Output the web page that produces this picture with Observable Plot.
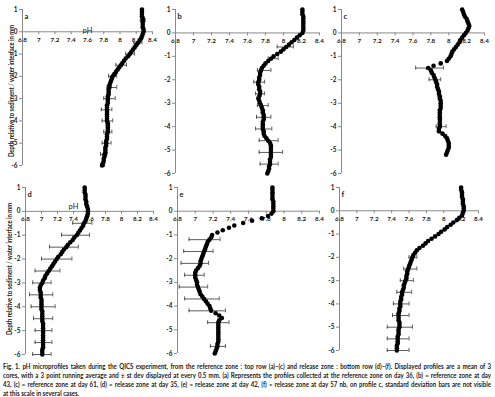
<!DOCTYPE html>
<html><head><meta charset="utf-8">
<script src="https://cdn.jsdelivr.net/npm/d3@7"></script>
<script src="https://cdn.jsdelivr.net/npm/@observablehq/plot@0.6"></script>
<style>
body{margin:0;background:#fff;}
#wrap{position:relative;width:495px;height:397px;overflow:hidden;font-family:Lato,sans-serif;}
.panel{position:absolute;}
.ytitle{position:absolute;white-space:nowrap;font-size:6.8px;line-height:8px;font-weight:bold;color:#222;transform-origin:50% 50%;}
#cap{position:absolute;left:3px;top:361.5px;width:561px;transform:scale(0.87,1);transform-origin:0 0;font-size:7px;line-height:9px;font-weight:bold;color:#222;font-family:Lato,sans-serif;}
#cap div{text-align:justify;text-align-last:justify;white-space:nowrap;}
#cap div.last{text-align-last:left;}
</style></head>
<body><div id="wrap"></div>
<script>
// depth (mm) of each profile point, top to bottom
const depths = [1.0,0.9,0.8,0.7,0.6,0.5,0.4,0.3,0.2,0.1,0.0,
 -0.1,-0.2,-0.3,-0.4,-0.5,-0.6,-0.7,-0.8,-0.9,-1.0,
 -1.1,-1.2,-1.3,-1.4,-1.5,-1.6,-1.7,-1.8,-1.9,-2.0,
 -2.1,-2.2,-2.3,-2.4,-2.5,-2.6,-2.7,-2.8,-2.9,-3.0,
 -3.1,-3.2,-3.3,-3.4,-3.5,-3.6,-3.7,-3.8,-3.9,-4.0,
 -4.1,-4.2,-4.3,-4.4,-4.5,-4.6,-4.7,-4.8,-4.9,-5.0,
 -5.1,-5.2,-5.3,-5.4,-5.5,-5.6,-5.7,-5.8,-5.9,-6.0];

const phA = [8.27,8.27,8.27,8.27,8.28,8.28,8.28,8.28,8.28,8.29,8.29,
 8.28,8.27,8.26,8.24,8.22,8.20,8.18,8.16,8.14,8.12,
 8.10,8.07,8.05,8.03,8.01,7.99,7.97,7.95,7.93,7.91,
 7.90,7.89,7.88,7.87,7.87,7.86,7.86,7.86,7.85,7.85,
 7.85,7.85,7.84,7.84,7.84,7.84,7.84,7.84,7.84,7.84,
 7.85,7.85,7.85,7.85,7.85,7.84,7.84,7.84,7.83,7.83,
 7.83,7.82,7.82,7.82,7.81,7.81,7.80,7.80,7.79,7.78];
const phB = [8.21,8.21,8.21,8.22,8.22,8.22,8.22,8.22,8.22,8.22,8.21,
 8.18,8.15,8.12,8.09,8.06,8.03,8.00,7.97,7.93,7.89,
 7.86,7.83,7.80,7.78,7.76,7.75,7.74,7.74,7.73,7.73,
 7.72,7.72,7.73,7.73,7.74,7.74,7.73,7.72,7.73,7.74,
 7.75,7.76,7.77,7.77,7.78,7.78,7.78,7.77,7.77,7.77,
 7.77,7.78,7.78,7.79,7.81,7.83,7.85,7.86,7.86,7.86,
 7.86,7.86,7.86,7.85,7.85,7.85,7.84,7.84,7.83,7.82];
const phC = [8.15,8.16,8.17,8.18,8.20,8.21,8.22,8.23,8.22,8.21,8.19,
 8.17,8.15,8.13,8.12,8.10,8.08,8.06,8.04,8.03,8.02,
 8.00,7.98,7.91,7.83,7.77,7.80,7.81,7.83,7.84,7.85,
 7.86,7.87,7.87,7.88,7.89,7.89,7.90,7.90,7.91,7.91,
 7.91,7.91,7.90,7.90,7.90,7.90,7.90,7.90,7.90,7.90,
 7.89,7.89,7.93,7.96,7.98,7.99,8.00,8.00,8.00,7.99,
 7.98,7.97];
const phD = [7.54,7.54,7.54,7.55,7.55,7.55,7.56,7.56,7.57,7.58,7.58,
 7.58,7.57,7.56,7.55,7.53,7.52,7.50,7.48,7.46,7.44,
 7.41,7.39,7.36,7.33,7.31,7.28,7.26,7.24,7.21,7.19,
 7.17,7.15,7.13,7.11,7.09,7.07,7.05,7.04,7.02,7.01,
 6.99,6.98,6.98,6.99,6.99,6.99,7.00,7.00,7.00,7.00,
 7.00,7.01,7.01,7.01,7.01,7.01,7.02,7.02,7.02,7.02,
 7.02,7.02,7.02,7.02,7.02,7.02,7.02,7.01,7.01,7.01];
const phE = [7.87,7.87,7.87,7.87,7.87,7.87,7.88,7.88,7.88,7.88,7.88,
 7.86,7.82,7.75,7.64,7.54,7.44,7.38,7.31,7.25,7.19,
 7.18,7.16,7.14,7.13,7.12,7.11,7.10,7.09,7.08,7.07,
 7.06,7.06,7.05,7.03,7.01,7.00,7.00,7.00,7.01,7.02,
 7.02,7.03,7.04,7.05,7.06,7.08,7.10,7.12,7.14,7.16,
 7.17,7.18,7.23,7.27,7.30,7.27,7.26,7.26,7.26,7.26,
 7.26,7.26,7.26,7.26,7.26,7.25,7.25,7.24,7.23,7.22];
const phF = [8.20,8.20,8.21,8.21,8.21,8.22,8.22,8.22,8.23,8.23,8.23,
 8.22,8.21,8.18,8.15,8.11,8.08,8.04,8.01,7.97,7.94,
 7.90,7.86,7.82,7.79,7.76,7.72,7.69,7.67,7.65,7.64,
 7.63,7.62,7.61,7.60,7.59,7.58,7.58,7.57,7.57,7.56,
 7.55,7.54,7.54,7.53,7.52,7.52,7.51,7.51,7.50,7.50,
 7.50,7.49,7.49,7.48,7.48,7.48,7.48,7.49,7.49,7.49,
 7.48,7.48,7.48,7.47,7.47,7.47,7.47,7.46,7.46,7.46];

// error bars: [depth, mean - sd, mean + sd]
const errA = [[0.5,8.25,8.31],[-0.5,8.17,8.27],[-1,8.07,8.18],[-1.5,7.95,8.08],[-2,7.86,7.96],[-2.5,7.84,7.96],
 [-3,7.80,7.94],[-3.5,7.77,7.90],[-4,7.78,7.91],[-4.5,7.80,7.90],[-5,7.78,7.89],[-5.5,7.76,7.84],[-6,7.76,7.81]];
const errB = [[-0.6,7.93,8.11],[-1.1,7.83,7.94],[-1.6,7.71,7.86],[-2.1,7.67,7.79],[-2.6,7.69,7.79],[-3.1,7.71,7.83],
 [-3.6,7.70,7.86],[-4.1,7.69,7.87],[-4.6,7.73,7.94],[-5.1,7.73,7.99],[-5.6,7.74,7.94]];
const errC = [[-1.5,7.63,7.94],[-2,7.78,7.91],[-4,7.86,7.97]];
const errD = [[-0.5,7.39,7.63],[-1,7.25,7.60],[-1.5,7.10,7.46],[-2,7.00,7.38],[-2.5,6.92,7.23],[-3,6.89,7.12],
 [-3.5,6.85,7.14],[-4,6.87,7.17],[-4.5,6.90,7.14],[-5,6.92,7.13],[-5.5,6.92,7.13],[-6,6.89,7.12]];
const errE = [[-1.2,6.93,7.28],[-1.7,6.87,7.20],[-2.2,6.84,7.15],[-2.7,6.88,7.10],[-3.2,6.82,7.14],[-3.7,6.88,7.27],
 [-4.2,6.93,7.34],[-4.7,7.14,7.38],[-5.7,7.17,7.34]];
const errF = [[-2,7.60,7.69],[-2.5,7.54,7.69],[-3,7.50,7.65],[-3.5,7.46,7.63],[-4,7.42,7.60],[-4.5,7.41,7.60],
 [-5,7.35,7.64],[-5.5,7.35,7.60],[-6,7.35,7.60]];

const xTicks = [6.8,7,7.2,7.4,7.6,7.8,8,8.2,8.4];
const yTicks = [1,0,-1,-2,-3,-4,-5,-6];
const letters = ["a","b","c","d","e","f"];
const yTitle = "Depth relative to sediment / water interface in mm";
const captionLines = [
 "Fig. 1.  pH microprofiles taken during the QICS experiment, from the reference zone : top row (a)–(c) and release zone : bottom row (d)–(f). Displayed profiles are a mean of 3",
 "cores, with a 3 point running average and ± st dev displayed at every 0.5 mm. (a) Represents the profiles collected at the reference zone on day 36, (b) = reference zone at day",
 "43, (c) = reference zone at day 61, (d) = release zone at day 35, (e) = release zone at day 42, (f) = release zone at day 57 nb, on profile c, standard deviation bars are not visible",
 "at this scale in several cases."];

const series = [phA,phB,phC,phD,phE,phF];
const errs = [errA,errB,errC,errD,errE,errF];
// layout per panel
const layout = [
 {left:0,  top:0,  w:160,h:175,ml:22,mr:8, mt:9,mb:10,title:{cx:10,cy:91}, ph:{dx:0,dy:18}},
 {left:160,top:0,  w:165,h:180,ml:15,mr:6, mt:9,mb:7},
 {left:325,top:0,  w:170,h:180,ml:16,mr:11,mt:9,mb:7},
 {left:0,  top:178,w:160,h:180,ml:25,mr:7, mt:9,mb:4,title:{cx:8,cy:269}, ph:{dx:-16,dy:16}},
 {left:160,top:178,w:165,h:180,ml:17,mr:6, mt:9,mb:5},
 {left:325,top:178,w:170,h:180,ml:14,mr:17,mt:9,mb:8}
];

const wrap = document.getElementById("wrap");
const axisGray = "#8a8a8a";
const font = "Lato, sans-serif";

layout.forEach((L, k) => {
  const rows = depths.map((d, i) => ({depth: d, ph: series[k][i]})).filter(r => r.ph != null);
  const eb = errs[k].map(([depth, lo, hi]) => ({depth, lo, hi}));
  const caps = eb.flatMap(e => [{depth: e.depth, x: e.lo}, {depth: e.depth, x: e.hi}]);
  const marks = [
    Plot.ruleY([0], {stroke: axisGray}),
    Plot.ruleX([6.8], {stroke: axisGray}),
    Plot.ruleX(xTicks, {x: d => d, y1: 0, y2: 0, insetTop: 0, insetBottom: -3, stroke: axisGray}),
    Plot.text(xTicks, {x: d => d, y: 0, dy: 8, text: d => String(d), fontSize: 6.3, fontWeight: "bold", fill: "#222"}),
    Plot.axisY({ticks: yTicks, tickFormat: d => String(d), tickSize: 3, tickPadding: 2, stroke: axisGray,
      fontSize: 6.5, fontWeight: "bold", label: null}),
    Plot.ruleY(eb, {y: "depth", x1: "lo", x2: "hi", stroke: "#333", strokeWidth: 0.8}),
    Plot.ruleX(caps, {x: "x", y1: "depth", y2: "depth", insetTop: -2, insetBottom: -2, stroke: "#333", strokeWidth: 0.8}),
    Plot.dot(rows, {x: "ph", y: "depth", r: 2.3, fill: "black", stroke: "none"}),
    Plot.text([letters[k]], {frameAnchor: "top-left", dx: 2, dy: 4, textAnchor: "start", fontSize: 7.5, fontWeight: "bold", fill: "#222"})
  ];
  if (L.title) {
    marks.push(Plot.text(["pH"], {frameAnchor: "top", dx: L.ph.dx, dy: L.ph.dy, fontSize: 7.5, fill: "#222"}));
  }
  const chart = Plot.plot({
    width: L.w, height: L.h,
    marginLeft: L.ml, marginRight: L.mr, marginTop: L.mt, marginBottom: L.mb,
    x: {domain: [6.8, 8.4], axis: null},
    y: {domain: [-6, 1], axis: null},
    style: {fontFamily: font, background: "transparent", color: "#222", overflow: "visible"},
    marks
  });
  chart.classList.add("panel");
  chart.style.left = L.left + "px";
  chart.style.top = L.top + "px";
  wrap.appendChild(chart);

  if (L.title) {
    // rotated y-axis title, condensed along its length to match the reference
    const el = document.createElement("div");
    el.className = "ytitle";
    el.textContent = yTitle;
    wrap.appendChild(el);
    const w = el.offsetWidth, h = el.offsetHeight;
    el.style.left = (L.title.cx - w / 2) + "px";
    el.style.top = (L.title.cy - h / 2) + "px";
    el.style.transform = `rotate(-90deg) scaleX(${132 / w})`;
  }
});

const cap = document.createElement("div");
cap.id = "cap";
captionLines.forEach((t, i) => {
  const d = document.createElement("div");
  d.textContent = t;
  if (i === captionLines.length - 1) d.className = "last";
  cap.appendChild(d);
});
wrap.appendChild(cap);
</script></body></html>
